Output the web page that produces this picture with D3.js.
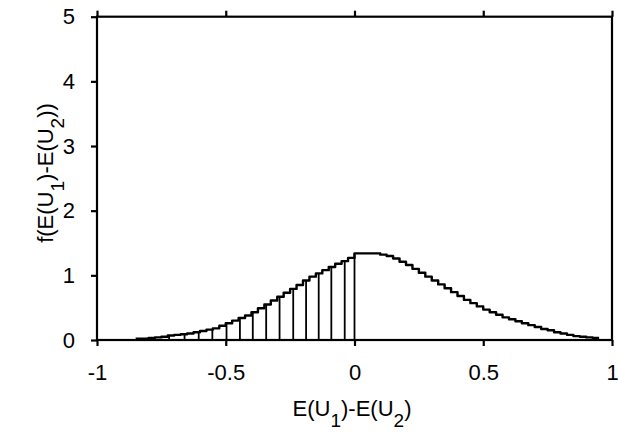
<!DOCTYPE html>
<html>
<head>
<meta charset="utf-8">
<script src="https://cdn.jsdelivr.net/npm/d3@7/dist/d3.min.js"></script>
<style>
  html, body { margin: 0; padding: 0; background: #fff; }
  svg { display: block; }
  text { font-family: "Liberation Sans", Arial, Helvetica, sans-serif; fill: #000; }
</style>
</head>
<body>
<svg id="chart" width="618" height="432"></svg>
<script>
// ---- data ----
const xTicks = [-1, -0.5, 0, 0.5, 1];
const xTickLabels = ["-1", "-0.5", "0", "0.5", "1"];
const yTicks = [0, 1, 2, 3, 4, 5];
const yTickLabels = ["0", "1", "2", "3", "4", "5"];

// left edges of the histogram steps
const binStarts = [
  -0.850, -0.825, -0.800, -0.775, -0.750, -0.725, -0.700, -0.675, -0.650, -0.625,
  -0.600, -0.575, -0.550, -0.525, -0.500, -0.475, -0.450, -0.425, -0.400, -0.375,
  -0.350, -0.325, -0.300, -0.275, -0.250, -0.225, -0.200, -0.175, -0.150, -0.125,
  -0.100, -0.075, -0.050, -0.025, 0.000, 0.025, 0.050, 0.075, 0.100, 0.125,
  0.150, 0.175, 0.200, 0.225, 0.250, 0.275, 0.300, 0.325, 0.350, 0.375,
  0.400, 0.425, 0.450, 0.475, 0.500, 0.525, 0.550, 0.575, 0.600, 0.625,
  0.650, 0.675, 0.700, 0.725, 0.750, 0.775, 0.800, 0.825, 0.850, 0.875,
  0.900, 0.925
];
const binEnd = 0.95;
const density = [
  0.02, 0.02, 0.03, 0.04, 0.05, 0.07, 0.08, 0.09, 0.10, 0.12,
  0.14, 0.16, 0.18, 0.22, 0.26, 0.30, 0.34, 0.38, 0.43, 0.49,
  0.55, 0.61, 0.67, 0.73, 0.79, 0.85, 0.92, 0.98, 1.03, 1.08,
  1.13, 1.18, 1.22, 1.27, 1.34, 1.34, 1.34, 1.34, 1.32, 1.30,
  1.26, 1.21, 1.16, 1.10, 1.04, 0.98, 0.92, 0.86, 0.80, 0.74,
  0.68, 0.62, 0.57, 0.52, 0.47, 0.43, 0.39, 0.35, 0.32, 0.29,
  0.26, 0.23, 0.20, 0.17, 0.15, 0.12, 0.10, 0.08, 0.06, 0.05,
  0.04, 0.03
];
// positions of the vertical hatch lines under the curve
const hatchX = [-0.72, -0.66, -0.605, -0.552, -0.497, -0.445, -0.395, -0.343,
                -0.291, -0.238, -0.188, -0.139, -0.09, -0.038, 0.0];

// ---- drawing ----
const svg = d3.select("#chart");
const xScale = d3.scaleLinear().domain([-1, 1]).range([97, 612]);
const yScale = d3.scaleLinear().domain([0, 5]).range([340, 16.7]);

const stepData = binStarts.map((b, i) => [b, density[i]]);
stepData.push([binEnd, density[density.length - 1]]);

function valueAt(v) {
  const i = d3.bisectRight(binStarts, v + 1e-9) - 1;
  return density[Math.max(0, Math.min(density.length - 1, i))];
}

// hatch lines
svg.append("g")
  .selectAll("line")
  .data(hatchX)
  .join("line")
  .attr("x1", d => xScale(d)).attr("x2", d => xScale(d))
  .attr("y1", yScale(0)).attr("y2", d => yScale(valueAt(d)))
  .attr("stroke", "#000").attr("stroke-width", 1.8);

// curve
const stepLine = d3.line().x(d => xScale(d[0])).y(d => yScale(d[1])).curve(d3.curveStepAfter);
svg.append("path")
  .datum(stepData)
  .attr("d", stepLine)
  .attr("fill", "none")
  .attr("stroke", "#000")
  .attr("stroke-width", 2.4)
  .attr("stroke-linejoin", "round");

// axes
const fs = 22;
const axB = d3.axisBottom(xScale).tickValues(xTicks).tickFormat((d, i) => xTickLabels[i])
  .tickSize(6).tickSizeOuter(0).tickPadding(18);
const gB = svg.append("g").attr("transform", `translate(0,${yScale(0)})`).call(axB);

const axL = d3.axisLeft(yScale).tickValues(yTicks).tickFormat((d, i) => yTickLabels[i])
  .tickSize(6).tickSizeOuter(0).tickPadding(16);
const gL = svg.append("g").attr("transform", `translate(${xScale(-1)},0)`).call(axL);

const axT = d3.axisTop(xScale).tickValues(xTicks).tickFormat("").tickSize(6).tickSizeOuter(0);
const gT = svg.append("g").attr("transform", `translate(0,${yScale(5)})`).call(axT);

[gB, gL, gT].forEach(g => {
  g.select(".domain").remove();
  g.selectAll(".tick line").attr("stroke", "#000").attr("stroke-width", 2.2);
  g.selectAll("text").attr("font-size", fs).attr("fill", "#000")
    .attr("font-family", '"Liberation Sans", Arial, sans-serif');
});

// frame
svg.append("rect")
  .attr("x", xScale(-1)).attr("y", yScale(5))
  .attr("width", xScale(1) - xScale(-1)).attr("height", yScale(0) - yScale(5))
  .attr("fill", "none").attr("stroke", "#000").attr("stroke-width", 2.2);

// x axis title
const xt = svg.append("text")
  .attr("x", 352).attr("y", 415.5)
  .attr("text-anchor", "middle")
  .attr("font-size", fs);
xt.append("tspan").text("E(U");
xt.append("tspan").text("1").attr("font-size", 19).attr("dy", 11);
xt.append("tspan").text(")-E(U").attr("dy", -11);
xt.append("tspan").text("2").attr("font-size", 19).attr("dy", 11);
xt.append("tspan").text(")").attr("dy", -11);

// y axis title
const yt = svg.append("text")
  .attr("transform", "translate(53,173) rotate(-90)")
  .attr("text-anchor", "middle")
  .attr("font-size", fs);
yt.append("tspan").text("f(E(U");
yt.append("tspan").text("1").attr("font-size", 19).attr("dy", 11);
yt.append("tspan").text(")-E(U").attr("dy", -11);
yt.append("tspan").text("2").attr("font-size", 19).attr("dy", 11);
yt.append("tspan").text("))").attr("dy", -11);
</script>
</body>
</html>
